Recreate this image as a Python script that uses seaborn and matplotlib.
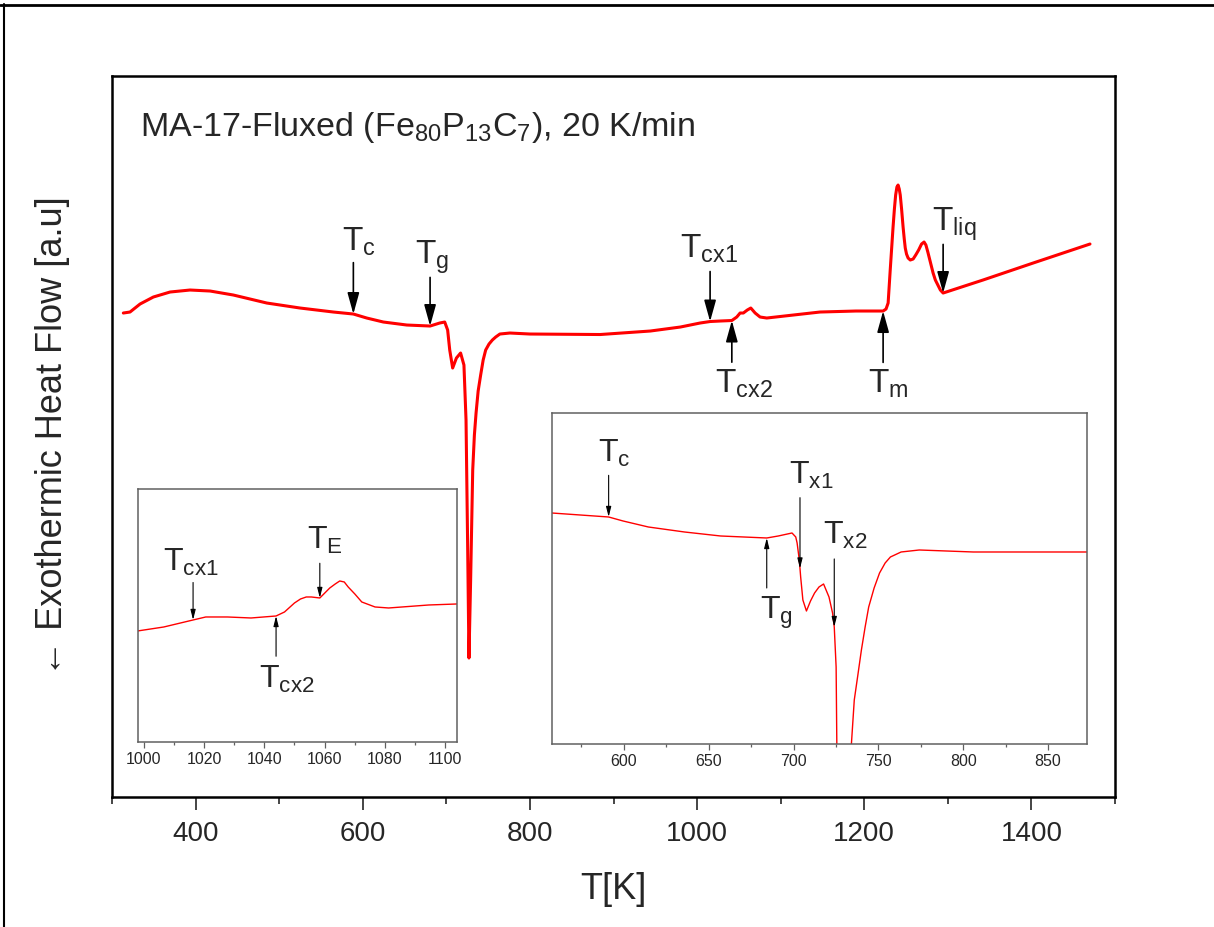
import numpy as np
import pandas as pd
import matplotlib
matplotlib.use('Agg')
import matplotlib.pyplot as plt
from matplotlib.lines import Line2D
from matplotlib.ticker import MultipleLocator
import seaborn as sns

# DSC trace, full range (T in K, heat flow in a.u.)
temp_main = [313.5, 321.5, 333.5, 349.4, 369.4, 393.3, 417.3, 445.1, 485.1, 524.9,
             564.8, 588.7, 604.7, 624.6, 652.6, 680.5, 692.0, 698.0, 701.5, 704.0,
             707.5, 712.0, 717.0, 721.0, 723.5, 725.5, 727.0, 729.0, 731.5, 733.5,
             735.5, 738.0, 741.0, 744.0, 747.0, 751.0, 755.0, 759.0, 764.0, 776.0,
             800.0, 884.0, 944.0, 980.0, 1003.5,
             1015.5, 1027.5, 1041.5, 1047.4, 1051.4, 1055.3, 1060.0, 1064.2, 1069.4, 1075.3,
             1083.3, 1147.0, 1190.0, 1222.5, 1226.0, 1228.5, 1231.0, 1234.4, 1236.0, 1237.5,
             1239.0, 1240.4, 1241.8, 1243.0, 1244.6, 1246.4, 1247.8, 1249.0, 1250.5, 1252.4,
             1255.0, 1258.4, 1261.5, 1265.0, 1268.5, 1271.5, 1273.7, 1276.0, 1279.0, 1282.3,
             1285.0, 1288.0, 1291.0, 1294.3, 1342.0, 1402.0, 1470.0]
flow_main = [4.84, 4.85, 4.93, 5.00, 5.05, 5.07, 5.06, 5.02, 4.94, 4.89,
             4.85, 4.83, 4.79, 4.75, 4.72, 4.71, 4.74, 4.75, 4.67, 4.47,
             4.29, 4.39, 4.44, 4.32, 3.77, 2.47, 1.39, 2.17, 3.27, 3.62,
             3.84, 4.06, 4.22, 4.37, 4.47, 4.53, 4.57, 4.60, 4.63, 4.64,
             4.63, 4.625, 4.66, 4.70, 4.74,
             4.755, 4.76, 4.765, 4.80, 4.84, 4.84, 4.87, 4.89, 4.84, 4.80,
             4.79, 4.85, 4.86, 4.86, 4.88, 4.94, 5.27, 5.70, 5.88, 6.02,
             6.10, 6.12, 6.08, 6.02, 5.88, 5.70, 5.58, 5.49, 5.43, 5.39,
             5.37, 5.38, 5.42, 5.47, 5.53, 5.55, 5.52, 5.45, 5.35, 5.24,
             5.17, 5.12, 5.07, 5.04, 5.17, 5.34, 5.53]

# inset: crystallisation region 1000-1100 K
temp_hi = [998.0, 1006.7, 1016.4, 1020.6, 1027.8, 1035.6, 1043.9, 1046.7, 1050.0, 1052.0,
           1053.9, 1055.6, 1058.4, 1061.7, 1063.5, 1065.0, 1066.5, 1067.8, 1070.0, 1072.3,
           1076.7, 1081.2, 1094.5, 1103.8]
flow_hi = [1.11, 1.15, 1.22, 1.25, 1.25, 1.24, 1.26, 1.30, 1.39, 1.43,
           1.45, 1.45, 1.44, 1.54, 1.58, 1.61, 1.60, 1.55, 1.48, 1.40,
           1.35, 1.34, 1.37, 1.38]

# inset: glass transition region 560-870 K
temp_lo = [557.4, 591.0, 599.5, 614.4, 635.7, 657.0, 684.2, 691.0, 699.1, 701.3,
           702.1, 703.4, 704.2, 705.5, 707.6, 710.0, 712.4, 715.0, 717.7, 720.9,
           723.0, 724.0, 725.1, 727.5, 729.5, 731.8, 735.8, 738.0, 740.0, 742.2,
           744.3, 747.5, 750.7, 754.0, 757.1, 763.4, 774.1, 806.0, 848.5, 873.0]
flow_lo = [2.31, 2.27, 2.23, 2.17, 2.12, 2.08, 2.06, 2.08, 2.11, 2.07,
           2.01, 1.84, 1.67, 1.44, 1.33, 1.43, 1.51, 1.57, 1.60, 1.47,
           1.31, 1.17, 0.77, -3.70, -2.30, -0.60, 0.44, 0.70, 0.94, 1.17,
           1.37, 1.56, 1.71, 1.81, 1.87, 1.92, 1.94, 1.92, 1.92, 1.92]

# characteristic temperatures
main_marks = ['c', 'g', 'cx1', 'cx2', 'm', 'liq']
main_marks_T = [588.7, 680.5, 1015.5, 1041.5, 1222.5, 1294.3]
hi_marks = ['cx1', 'cx2', 'E']
hi_marks_T = [1016.4, 1043.9, 1058.4]
lo_marks = ['c', 'g', 'x1', 'x2']
lo_marks_T = [591.0, 684.2, 703.8, 724.0]

# arrow length, label dx, label dy (points); negative length = arrow from below
main_layout = [(37, -8, 46), (35, -11, 45), (36, -22, 46), (-30, -12, -52), (-37, -11, -59), (35, -8, 45)]
hi_layout = [(27, -22, 35), (-29, -12, -52), (25, -9, 35)]
lo_layout = [(30, -8, 40), (-36, -5, -58), (51, -8, 61), (49, -8, 60)]

sns.set_style("ticks")
plt.rcParams['font.family'] = ['Liberation Sans', 'DejaVu Sans']
plt.rcParams['mathtext.fontset'] = 'custom'
plt.rcParams['mathtext.rm'] = 'Liberation Sans'
plt.rcParams['mathtext.it'] = 'Liberation Sans:italic'


def mark_events(ax, temps, flows, names, marks_T, layout, fs, lw, hl, hw, ms, color='k'):
    for name, t, (length, dx, dy) in zip(names, marks_T, layout):
        y = np.interp(t, temps, flows)
        ax.annotate('', xy=(t, y), xytext=(0, length), textcoords='offset points',
                    arrowprops=dict(arrowstyle=f'-|>,head_length={hl},head_width={hw}',
                                    mutation_scale=ms, color=color, lw=lw,
                                    shrinkA=0, shrinkB=0))
        ax.annotate('T$_\\mathregular{' + name + '}$', xy=(t, y), xytext=(dx, dy),
                    textcoords='offset points', ha='left', va='baseline', fontsize=fs)


fig = plt.figure(figsize=(12.14, 9.27), dpi=100)

# main panel
ax = fig.add_axes([0.0923, 0.1402, 0.8262, 0.7778])
df_main = pd.DataFrame({'T': temp_main, 'flow': flow_main})
sns.lineplot(data=df_main, x='T', y='flow', ax=ax, color='#ff0000', lw=2.2, estimator=None)
ax.set_xlim(300, 1500)
ax.set_ylim(0, 7.21)
ax.xaxis.set_major_locator(MultipleLocator(200))
ax.xaxis.set_minor_locator(MultipleLocator(100))
ax.set_yticks([])
ax.tick_params(axis='x', which='major', direction='out', length=9.5, width=1.2,
               labelsize=20, pad=8)
ax.tick_params(axis='x', which='minor', direction='out', length=5, width=1.2)
for sp in ax.spines.values():
    sp.set_visible(True)
    sp.set_linewidth(1.8)
    sp.set_color('k')
ax.set_xlabel('T[K]', fontsize=26, labelpad=18)
ax.set_ylabel('← Exothermic Heat Flow [a.u]', fontsize=26, labelpad=30)
ax.text(0.028, 0.929, 'MA-17-Fluxed (Fe$_\\mathregular{80}$P$_\\mathregular{13}$C$_\\mathregular{7}$), 20 K/min',
        transform=ax.transAxes, fontsize=24.5, ha='left', va='center')
mark_events(ax, temp_main, flow_main, main_marks, main_marks_T, main_layout,
            fs=24, lw=1.2, hl=0.65, hw=0.18, ms=20)

# inset 1000-1100 K
ax1 = fig.add_axes([0.1133, 0.1996, 0.2635, 0.2729])
sns.lineplot(x=temp_hi, y=flow_hi, ax=ax1, color='#ff0000', lw=1.0, estimator=None)
ax1.set_xlim(998, 1104)
ax1.set_ylim(0, 2.53)
ax1.xaxis.set_major_locator(MultipleLocator(20))
ax1.xaxis.set_minor_locator(MultipleLocator(10))
mark_events(ax1, temp_hi, flow_hi, hi_marks, hi_marks_T, hi_layout,
            fs=23, lw=0.8, hl=0.6, hw=0.15, ms=10)

# inset 560-870 K
ax2 = fig.add_axes([0.4544, 0.1974, 0.4410, 0.3571])
sns.lineplot(x=temp_lo, y=flow_lo, ax=ax2, color='#ff0000', lw=1.0, estimator=None)
ax2.set_xlim(557.4, 873)
ax2.set_ylim(0, 3.31)
ax2.xaxis.set_major_locator(MultipleLocator(50))
ax2.xaxis.set_minor_locator(MultipleLocator(25))
mark_events(ax2, temp_lo, flow_lo, lo_marks, lo_marks_T, lo_layout,
            fs=23, lw=0.8, hl=0.6, hw=0.15, ms=10)

for a in (ax1, ax2):
    a.set_yticks([])
    a.set_xlabel('')
    a.set_ylabel('')
    for sp in a.spines.values():
        sp.set_visible(True)
        sp.set_linewidth(1.1)
        sp.set_color('#606060')
    a.tick_params(axis='x', which='major', direction='out', length=4, width=0.9,
                  color='#606060', labelsize=11.5, pad=3)
    a.tick_params(axis='x', which='minor', direction='out', length=2.5, width=0.9,
                  color='#606060')

# outer frame (top and left edges)
fig.add_artist(Line2D([0, 1], [0.9945, 0.9945], transform=fig.transFigure, color='k', lw=2))
fig.add_artist(Line2D([0.0035, 0.0035], [0, 0.9955], transform=fig.transFigure, color='k', lw=1.5))

fig.savefig('out.png', dpi=100)
